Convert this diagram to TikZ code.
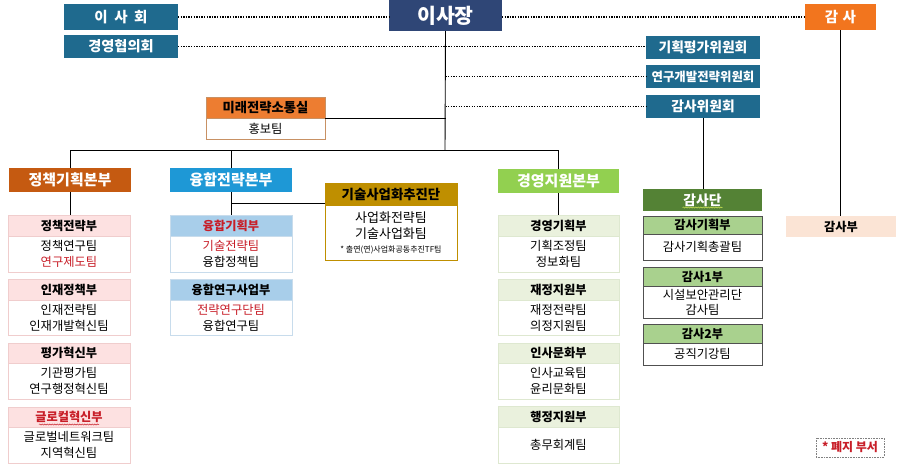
\documentclass[tikz,border=0pt]{standalone}
\usepackage{fontspec}
\setmainfont{Noto Sans CJK KR}
\usetikzlibrary{calc,decorations.pathmorphing}
\definecolor{cTeal}{RGB}{31,106,142}
\definecolor{cNavy}{RGB}{47,70,118}
\definecolor{cOrange}{RGB}{242,117,30}
\definecolor{cMirae}{RGB}{237,125,49}
\definecolor{cMiraeB}{RGB}{200,145,100}
\definecolor{cJB}{RGB}{197,90,17}
\definecolor{cYB}{RGB}{30,152,214}
\definecolor{cGB}{RGB}{146,208,80}
\definecolor{cGisul}{RGB}{191,143,0}
\definecolor{cDan}{RGB}{84,130,53}
\definecolor{cDanH}{RGB}{169,209,142}
\definecolor{cDanB}{RGB}{80,80,80}
\definecolor{cPinkH}{RGB}{253,225,225}
\definecolor{cPinkB}{RGB}{240,205,205}
\definecolor{cBlueH}{RGB}{168,206,234}
\definecolor{cBlueB}{RGB}{200,220,236}
\definecolor{cGreenH}{RGB}{234,241,221}
\definecolor{cGreenB}{RGB}{222,232,208}
\definecolor{cPeach}{RGB}{251,228,213}
\definecolor{cRed}{RGB}{200,30,40}
\newcommand{\rt}[1]{\textcolor{cRed}{#1}}
\begin{document}
\begin{tikzpicture}[x=1pt,y=-1pt,
  bx/.style={inner sep=0pt, outer sep=0pt, anchor=north west, align=center},
  topbox/.style={bx, fill=#1, text=white, font=\fontsize{13.8}{15}\selectfont\bfseries},
  hd/.style={bx, fill=#1, font=\fontsize{12.2}{14}\selectfont\bfseries},
  bd/.style={bx, fill=white, font=\fontsize{12.3}{16}\selectfont},
  ln/.style={draw=black, line width=0.9pt},
  dl/.style={draw=black, line width=1.5pt, dash pattern=on 1.3pt off 1.3pt},
  wavy/.style={draw=cRed, line width=0.5pt, decorate, decoration={snake, amplitude=0.6pt, segment length=2.5pt}},
]
\useasboundingbox (0,0) rectangle (899,469);
\fill[white] (0,0) rectangle (899,469);

% ---- top level
\node[topbox=cTeal, minimum width=114pt, minimum height=26pt, font=\fontsize{14.5}{16}\selectfont\bfseries] (isahoe) at (64,4) {이\hspace{0.45em}사\hspace{0.45em}회};
\node[topbox=cTeal, minimum width=114pt, minimum height=23pt, font=\fontsize{14.2}{16}\selectfont\bfseries] (gyeong) at (64,35) {경영협의회};
\node[topbox=cNavy, minimum width=113pt, minimum height=31pt, font=\fontsize{20.5}{22}\selectfont\bfseries] (chair) at (389,0) {이사장};
\node[topbox=cOrange, minimum width=71pt, minimum height=26pt, font=\fontsize{14.5}{16}\selectfont\bfseries] (gamsa) at (805,4) {감\hspace{0.3em}사};
\node[topbox=cTeal, minimum width=114pt, minimum height=23pt] (kihoek) at (646,36) {기획평가위원회};
\node[topbox=cTeal, minimum width=114pt, minimum height=23pt, font=\fontsize{12.4}{14}\selectfont\bfseries] (yeongu) at (646,65) {연구개발전략위원회};
\node[topbox=cTeal, minimum width=114pt, minimum height=23pt] (gamsawi) at (646,95) {감사위원회};

% ---- 미래전략소통실
\node[hd=cMirae, draw=cMiraeB, minimum width=119pt, minimum height=21pt, font=\fontsize{13.3}{14}\selectfont\bfseries] (miraeh) at (206,97) {미래전략소통실};
\node[bd, draw=cMiraeB, minimum width=119pt, minimum height=21pt] (miraeb) at (miraeh.south west) {홍보팀};

% ---- 본부
\node[topbox=cJB, minimum width=122pt, minimum height=24pt, font=\fontsize{15}{16}\selectfont\bfseries] (jb) at (9,168) {정책기획본부};
\node[topbox=cYB, minimum width=122pt, minimum height=24pt, font=\fontsize{15}{16}\selectfont\bfseries] (yb) at (170,168) {융합전략본부};
\node[topbox=cGB, minimum width=121pt, minimum height=24pt, font=\fontsize{15}{16}\selectfont\bfseries] (gb) at (498,169) {경영지원본부};
\node[hd=cGisul, draw=cGisul, minimum width=132pt, minimum height=22pt, font=\fontsize{13.4}{14}\selectfont\bfseries] (gisulh) at (325,183) {기술사업화추진단};
\node[bd, draw=cGisul, line width=0.8pt, minimum width=132pt, minimum height=55pt, font=\fontsize{13}{16}\selectfont] (gisulb) at (gisulh.south west) {사업화전략팀\\기술사업화팀\\[-2pt]{\fontsize{8}{9}\selectfont * 출연(연)사업화공동추진TF팀}};

% ---- 정책기획본부 column
\node[hd=cPinkH, draw=cPinkB, minimum width=122pt, minimum height=21pt] (d1h) at (8,215) {정책전략부};
\node[bd, draw=cPinkB, minimum width=122pt, minimum height=36pt] (d1b) at (d1h.south west) {정책연구팀\\\rt{연구제도팀}};
\node[hd=cPinkH, draw=cPinkB, minimum width=122pt, minimum height=21pt] (d2h) at (8,279) {인재정책부};
\node[bd, draw=cPinkB, minimum width=122pt, minimum height=35pt] (d2b) at (d2h.south west) {인재전략팀\\인재개발혁신팀};
\node[hd=cPinkH, draw=cPinkB, minimum width=122pt, minimum height=20pt] (d3h) at (8,343) {평가혁신부};
\node[bd, draw=cPinkB, minimum width=122pt, minimum height=36pt] (d3b) at (d3h.south west) {기관평가팀\\연구행정혁신팀};
\node[hd=cPinkH, draw=cPinkB, minimum width=122pt, minimum height=20pt] (d4h) at (8,407) {\rt{글로컬혁신부}};
\node[bd, draw=cPinkB, minimum width=122pt, minimum height=36pt] (d4b) at (d4h.south west) {글로벌네트워크팀\\지역혁신팀};
\draw[wavy] ($(d4h.center)+(-30,7.5)$) -- ($(d4h.center)+(30,7.5)$);

% ---- 융합전략본부 column
\node[hd=cBlueH, draw=cBlueB, minimum width=122pt, minimum height=21pt] (m1h) at (170,215) {\rt{융합기획부}};
\node[bd, draw=cBlueB, minimum width=122pt, minimum height=36pt] (m1b) at (m1h.south west) {\rt{기술전략팀}\\융합정책팀};
\node[hd=cBlueH, draw=cBlueB, minimum width=122pt, minimum height=21pt] (m2h) at (170,279) {융합연구사업부};
\node[bd, draw=cBlueB, minimum width=122pt, minimum height=35pt] (m2b) at (m2h.south west) {\rt{전략연구단팀}\\융합연구팀};

% ---- 경영지원본부 column
\node[hd=cGreenH, draw=cGreenB, minimum width=121pt, minimum height=21pt] (g1h) at (498,215) {경영기획부};
\node[bd, draw=cGreenB, minimum width=121pt, minimum height=36pt] (g1b) at (g1h.south west) {기획조정팀\\정보화팀};
\node[hd=cGreenH, draw=cGreenB, minimum width=121pt, minimum height=21pt] (g2h) at (498,279) {재정지원부};
\node[bd, draw=cGreenB, minimum width=121pt, minimum height=35pt] (g2b) at (g2h.south west) {재정전략팀\\의정지원팀};
\node[hd=cGreenH, draw=cGreenB, minimum width=121pt, minimum height=20pt] (g3h) at (498,343) {인사문화부};
\node[bd, draw=cGreenB, minimum width=121pt, minimum height=36pt] (g3b) at (g3h.south west) {인사교육팀\\윤리문화팀};
\node[hd=cGreenH, draw=cGreenB, minimum width=121pt, minimum height=21pt] (g4h) at (498,406) {행정지원부};
\node[bd, draw=cGreenB, minimum width=121pt, minimum height=36pt] (g4b) at (g4h.south west) {총무회계팀};

% ---- 감사단 column
\node[topbox=cDan, minimum width=119pt, minimum height=22pt] (a0) at (643,189) {감사단};
\draw[wavy, draw=cDanH!60!yellow] ($(a0.center)+(-20,7.5)$) -- ($(a0.center)+(20,7.5)$);
\node[hd=cDanH, draw=cDanB, line width=0.6pt, minimum width=119pt, minimum height=18pt] (a1h) at (643,216) {감사기획부};
\node[bd, draw=cDanB, line width=0.6pt, minimum width=119pt, minimum height=26pt] (a1b) at (a1h.south west) {감사기획총괄팀};
\node[hd=cDanH, draw=cDanB, line width=0.6pt, minimum width=119pt, minimum height=19pt] (a2h) at (643,267) {감사1부};
\node[bd, draw=cDanB, line width=0.6pt, minimum width=119pt, minimum height=32pt, font=\fontsize{12.3}{15}\selectfont] (a2b) at (a2h.south west) {시설보안관리단\\감사팀};
\node[hd=cDanH, draw=cDanB, line width=0.6pt, minimum width=119pt, minimum height=19pt] (a3h) at (643,324) {감사2부};
\node[bd, draw=cDanB, line width=0.6pt, minimum width=119pt, minimum height=22pt] (a3b) at (a3h.south west) {공직기강팀};

\node[hd=cPeach, minimum width=110pt, minimum height=21pt] (gamsabu) at (786,216) {감사부};

\node[bx, draw=gray, dash pattern=on 0.8pt off 0.8pt, line width=0.6pt, minimum width=68pt, minimum height=19pt, text=cRed, font=\fontsize{12}{13}\selectfont\bfseries] (legend) at (816,438) {* 폐지 부서};

% ---- connectors
\coordinate (bus) at (445,150);
\draw[ln] (chair.south) -- (bus);
\draw[ln] (jb.north) |- (bus);
\draw[ln] (gb.north) |- (bus);
\draw[ln] (yb.north) -- (yb.north |- bus);
\draw[ln] (miraeb.north east) -- (miraeb.north east -| chair.south);
\draw[ln] (jb.south) -- (jb.south |- d1h.north);
\draw[ln] (yb.south) -- (yb.south |- m1h.north);
\draw[ln] (gb.south) -- (gb.south |- g1h.north);
\path (gisulh.south west) ++(0,-2) coordinate (gin);
\draw[ln] (gin) -- (gin -| yb.south);
\draw[ln] (gamsawi.south) -- (gamsawi.south |- a0.north);
\draw[ln] (gamsa.south) -- (gamsa.south |- gamsabu.north);

\draw[dl] (isahoe.east) -- (isahoe.east -| chair.west);
\draw[dl] (gamsa.west -| chair.east) -- (gamsa.west);
\draw[dl] (gyeong.east) -- (gyeong.east -| kihoek.west);
\draw[dl] (yeongu.west -| chair.south) -- (yeongu.west);
\draw[dl] (gamsawi.west -| chair.south) -- (gamsawi.west);
\end{tikzpicture}
\end{document}
